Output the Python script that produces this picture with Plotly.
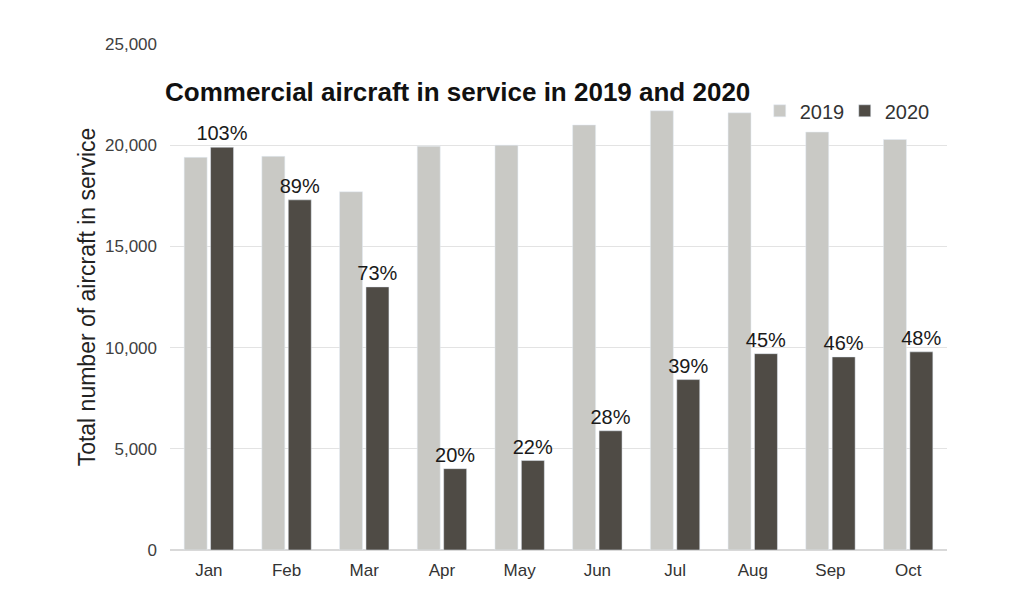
import plotly.graph_objects as go

# ----------- data ----------- #
months = ["Jan", "Feb", "Mar", "Apr", "May", "Jun", "Jul", "Aug", "Sep", "Oct"]
aircraft_2019 = [19400, 19450, 17700, 19950, 20000, 21000, 21700, 21600, 20650, 20280]
aircraft_2020 = [19900, 17300, 13000, 4020, 4420, 5890, 8420, 9700, 9540, 9790]
pct_labels = ["103%", "89%", "73%", "20%", "22%", "28%", "39%", "45%", "46%", "48%"]
y_ticks = [0, 5000, 10000, 15000, 20000, 25000]

FONT = "Liberation Sans, Arial, sans-serif"
# the page body has an 8px margin, so everything is nudged up/left by 8px
OFF = 8

fig = go.Figure()
fig.add_trace(
    go.Bar(
        x=months,
        y=aircraft_2019,
        name="2019",
        marker_color="#c9c9c5",
    )
)
fig.add_trace(
    go.Bar(
        x=months,
        y=aircraft_2020,
        name="2020",
        marker_color="#4f4b45",
        text=pct_labels,
        textposition="outside",
        constraintext="none",
        textfont=dict(size=20, color="#1a1a1a", family=FONT),
        cliponaxis=False,
    )
)

fig.update_layout(
    width=1024,
    height=603,
    barmode="group",
    bargap=0.32,
    bargroupgap=0.13,
    plot_bgcolor="white",
    paper_bgcolor="white",
    font=dict(family=FONT, color="#404040"),
    margin=dict(l=170 - OFF, r=77 + OFF, t=44 - OFF, b=53 + OFF),
    title=dict(
        text="<b>Commercial aircraft in service in 2019 and 2020</b>",
        font=dict(size=26, color="#111111", family=FONT),
        xref="container",
        x=(165 - OFF) / 1024,
        xanchor="left",
        yref="container",
        y=1 - (92 - OFF) / 603,
        yanchor="middle",
    ),
    legend=dict(
        orientation="h",
        x=0.759,
        xanchor="left",
        y=0.868,
        yanchor="middle",
        font=dict(size=20, color="#333333"),
        bgcolor="rgba(0,0,0,0)",
        itemwidth=30,
        entrywidth=40,
        entrywidthmode="pixels",
        traceorder="normal",
    ),
    showlegend=True,
)
fig.update_yaxes(
    range=[0, 25000],
    tickvals=y_ticks,
    tickformat=",",
    tickfont=dict(size=17, color="#404040"),
    ticklabelstandoff=12,
    showgrid=True,
    gridcolor="#e3e3e3",
    zeroline=True,
    zerolinecolor="#d9d9d9",
    title=dict(
        text="Total number of aircraft in service",
        font=dict(size=23, color="#222222"),
        standoff=2,
    ),
    ticks="",
)
fig.update_xaxes(
    tickfont=dict(size=17, color="#333333"),
    ticklabelstandoff=8,
    showline=False,
    ticks="",
)

fig.write_html("out.html")
